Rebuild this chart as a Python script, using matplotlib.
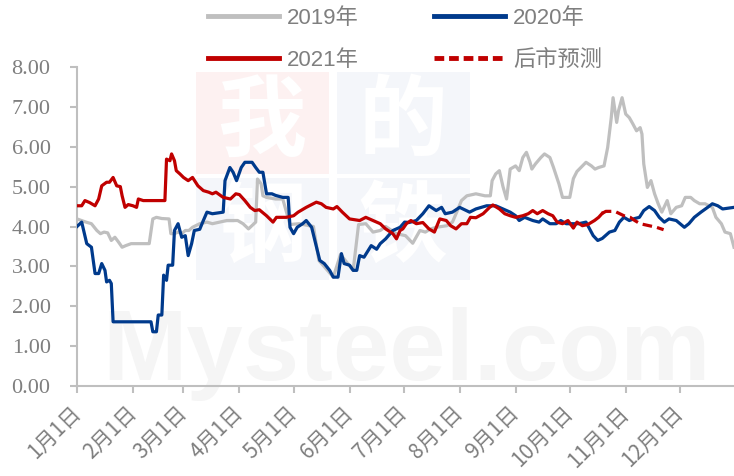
import numpy as np
import matplotlib
matplotlib.use("Agg")
import matplotlib.pyplot as plt
from matplotlib import font_manager
from matplotlib.patches import Rectangle
from matplotlib.lines import Line2D

# day of year (0 = Jan 1) and values
days_2019 = [0, 5, 8, 11, 13, 15, 17, 19, 21, 23, 25, 27, 30, 40, 42, 44, 47, 51, 52, 54, 56, 58, 60,
             62, 64, 68, 72, 75, 79, 83, 86, 89, 92, 95, 98, 99, 100, 102, 103, 105, 110, 114, 118,
             123, 131, 134, 142, 146, 153, 156, 160, 164, 168, 171, 177, 182, 186, 190, 193, 196,
             199, 205, 208, 210, 213, 216, 221, 226, 229, 230, 232, 234, 236, 238, 240, 243, 245,
             247, 249, 251, 252, 254, 257, 259, 262, 264, 267, 269, 273, 275, 277, 282, 285, 287,
             289, 292, 294, 296, 297, 299, 300, 302, 304, 306, 308, 310, 312, 313, 314, 316, 318,
             320, 322, 324, 327, 329, 332, 335, 337, 340, 342, 345, 348, 352, 354, 357, 359, 362, 364]
vals_2019 = [4.19, 4.11, 4.07, 3.90, 3.82, 3.86, 3.84, 3.65, 3.73, 3.61, 3.48, 3.52, 3.57, 3.57, 4.19,
             4.23, 4.20, 4.19, 3.82, 3.82, 3.86, 3.82, 3.90, 3.90, 3.98, 4.07, 4.11, 4.07, 4.11, 4.15,
             4.15, 4.15, 4.07, 3.94, 4.07, 4.11, 5.19, 5.07, 4.77, 4.73, 4.69, 4.69, 4.05, 4.07, 4.00,
             3.15, 2.73, 3.30, 2.90, 4.05, 4.07, 3.86, 3.90, 4.00, 3.82, 3.77, 3.58, 3.90, 3.86, 3.94,
             3.98, 4.02, 4.11, 4.32, 4.65, 4.77, 4.82, 4.77, 4.77, 5.15, 5.32, 5.40, 5.00, 4.69, 5.44,
             5.52, 5.40, 5.73, 5.86, 5.61, 5.44, 5.57, 5.73, 5.82, 5.73, 5.48, 5.07, 4.73, 4.73, 5.20,
             5.38, 5.61, 5.52, 5.44, 5.48, 5.52, 5.98, 6.73, 7.23, 6.61, 6.90, 7.23, 6.82, 6.73, 6.57,
             6.40, 6.48, 6.32, 5.57, 4.98, 5.15, 4.82, 4.57, 4.36, 4.65, 4.32, 4.48, 4.52, 4.73, 4.73,
             4.65, 4.57, 4.57, 4.48, 4.23, 4.07, 3.86, 3.82, 3.48]

days_2020 = [0, 2.6, 5.4, 8, 10, 12, 13.7, 15.5, 16.4, 18, 19, 20, 41, 42, 44, 45, 47, 48, 49.6, 50.5,
             53, 54, 56, 58, 60, 61.6, 63.5, 65, 68, 70, 72, 75, 81, 82, 84.7, 86.5, 88.4, 91, 93, 97,
             99, 101, 103, 105, 108, 110, 114, 117, 118, 120, 122, 125, 127, 130, 132, 134.5, 137,
             140, 142, 144.6, 146.5, 148, 151, 153, 155, 156.6, 159, 163, 166, 168, 171, 175, 179,
             181.5, 184, 188, 191.6, 195, 199, 202, 204, 208, 212, 217.5, 221, 227, 232, 236, 240,
             243, 245, 248, 252.5, 256, 258, 262, 265.5, 268, 271, 278, 282, 286, 288.5, 291, 295,
             298, 300.5, 303, 306, 309, 311.6, 314, 317, 320, 322.6, 325.4, 328, 332, 336.5, 339,
             342, 345.7, 349.4, 352, 355, 357.7, 364]
vals_2020 = [4.00, 4.11, 3.57, 3.48, 2.82, 2.82, 3.07, 2.90, 2.61, 2.65, 2.57, 1.61, 1.61, 1.36, 1.36,
             1.78, 1.78, 2.78, 2.65, 3.03, 3.03, 3.90, 4.07, 3.73, 3.77, 3.27, 3.57, 3.90, 3.93, 4.15,
             4.36, 4.32, 4.36, 5.15, 5.48, 5.36, 5.15, 5.48, 5.61, 5.61, 5.48, 5.36, 5.36, 4.82, 4.82,
             4.78, 4.73, 4.73, 3.98, 3.82, 3.98, 4.07, 4.15, 3.98, 3.61, 3.15, 3.07, 2.90, 2.73, 2.73,
             3.32, 3.07, 3.03, 2.90, 2.90, 3.27, 3.23, 3.52, 3.43, 3.57, 3.69, 3.90, 3.98, 4.11, 4.10,
             4.15, 4.32, 4.52, 4.40, 4.48, 4.32, 4.36, 4.48, 4.36, 4.44, 4.52, 4.52, 4.44, 4.36, 4.27,
             4.15, 4.23, 4.15, 4.11, 4.19, 4.07, 4.07, 4.15, 4.07, 4.07, 4.11, 3.77, 3.65, 3.70, 3.86,
             3.90, 4.11, 4.23, 4.15, 4.20, 4.23, 4.40, 4.50, 4.40, 4.23, 4.11, 4.19, 4.15, 3.98, 4.07,
             4.23, 4.36, 4.48, 4.57, 4.52, 4.44, 4.48]

days_2021 = [0, 2.6, 4.4, 7, 10, 12, 13.7, 16.4, 18, 20, 22, 24, 25, 26.6, 28.4, 31, 33, 34, 36.7, 48.7,
             49.6, 51.5, 52.4, 54, 55, 57, 59, 61.6, 64, 67, 70, 73, 75, 77, 81, 85, 88, 90, 93, 96,
             98.5, 101, 105, 108.6, 110.5, 116, 120, 122.5, 127, 132.6, 135.4, 138, 142, 144, 147,
             151, 156.6, 160, 164, 168, 171, 175, 177, 179, 180.5, 182.5, 185, 188, 191.6, 195, 198,
             201, 204.6, 207, 210, 213, 216, 218, 221, 225, 228.6, 230.4, 234, 237, 240, 243, 247,
             250, 252.5, 255, 258, 261, 263.6, 266, 269, 272, 275, 277, 280, 283, 286.7, 289, 291]
vals_2021 = [4.52, 4.52, 4.65, 4.60, 4.52, 4.69, 5.02, 5.11, 5.11, 5.23, 5.02, 5.00, 4.77, 4.48, 4.55,
             4.52, 4.48, 4.69, 4.65, 4.65, 5.69, 5.65, 5.82, 5.65, 5.40, 5.32, 5.23, 5.15, 5.23, 5.02,
             4.90, 4.86, 4.82, 4.86, 4.73, 4.69, 4.82, 4.80, 4.65, 4.48, 4.40, 4.42, 4.27, 4.11, 4.23,
             4.23, 4.27, 4.36, 4.48, 4.61, 4.57, 4.48, 4.44, 4.50, 4.36, 4.19, 4.15, 4.23, 4.15, 4.07,
             3.94, 3.82, 3.69, 3.90, 3.94, 4.07, 4.15, 4.07, 4.10, 3.94, 3.86, 4.19, 4.15, 4.02, 3.94,
             4.07, 4.07, 4.23, 4.22, 4.32, 4.48, 4.54, 4.44, 4.32, 4.27, 4.23, 4.27, 4.32, 4.40, 4.32,
             4.40, 4.32, 4.27, 4.11, 4.07, 4.15, 3.96, 4.11, 4.02, 4.05, 4.15, 4.23, 4.33]

days_fc = [291, 293, 298, 303, 306.5, 309, 312, 317, 321, 325]
vals_fc = [4.33, 4.38, 4.38, 4.27, 4.23, 4.15, 4.07, 4.02, 3.98, 3.92]

month_days = [0, 31, 59, 90, 120, 151, 181, 212, 243, 273, 304, 334]
month_labels = [f"{m}月1日" for m in range(1, 13)]

c19, c20, c21 = "#BFBFBF", "#003A8C", "#C00000"
grey_txt = "#7F7F7F"
cjk = ["Noto Sans CJK SC", "DejaVu Sans"]

# serif face for the y labels (Times-like), looked up by file if the name lookup fails
serif_prop = font_manager.FontProperties(family=["Liberation Serif", "DejaVu Serif"], size=16)
for f in font_manager.fontManager.ttflist:
    if f.name == "Liberation Serif" and f.style == "normal" and f.weight == 400:
        serif_prop = font_manager.FontProperties(fname=f.fname, size=16)
        break

fig = plt.figure(figsize=(7.34, 4.76), dpi=100)
ax = fig.add_axes([77 / 734, 90 / 476, 657 / 734, 319 / 476])
ax.patch.set_visible(False)

# faint watermark behind the plot
def px(x, y):
    return x / 734, 1 - y / 476

wm_boxes = [(196, 72, "#FDF1F1", "我"), (337, 72, "#F4F6FA", "的"),
            (196, 178, "#F4F6FA", "钢"), (337, 178, "#F4F6FA", "铁")]
for bx, by, col, ch in wm_boxes:
    x0, y1 = px(bx, by + 102)
    fig.add_artist(Rectangle((x0, y1), 133 / 734, 102 / 476, transform=fig.transFigure,
                             facecolor=col, edgecolor="none", zorder=-2))
    cx, cy = px(bx + 66, by + 51)
    fig.text(cx, cy, ch, fontsize=64, color="white", ha="center", va="center",
             family=cjk, fontweight="bold", zorder=-1)
mx, my = px(102, 380)
fig.text(mx, my, "Mysteel.com", fontsize=73, color="#F5F5F5", ha="left", va="baseline",
         family=["Liberation Sans", "DejaVu Sans"], fontweight="bold", zorder=-1)

ax.plot(days_2019, vals_2019, color=c19, lw=2.3, zorder=2)
ax.plot(days_2020, vals_2020, color=c20, lw=2.3, zorder=3)
ax.plot(days_2021, vals_2021, color=c21, lw=2.3, zorder=4)
ax.plot(days_fc, vals_fc, color=c21, lw=2.3, ls=(0, (3, 1.6)), zorder=4)

ax.tick_params(axis="both", color="#BFBFBF", width=1.5, length=5)
ax.tick_params(axis="x", pad=12)
ax.tick_params(axis="y", pad=14)
ax.set_xlim(0, 364)
ax.set_ylim(0, 8)
ax.set_yticks(np.arange(0, 9, 1))
ax.set_yticklabels([f"{v:.2f}" for v in range(9)], color=grey_txt, fontproperties=serif_prop)
ax.set_xticks(month_days)
ax.set_xticklabels(month_labels, rotation=45, ha="right", va="center",
                   rotation_mode="anchor", fontsize=15, color=grey_txt, family=cjk,
                   fontweight="light")
for s in ["top", "right"]:
    ax.spines[s].set_visible(False)
for s in ["left", "bottom"]:
    ax.spines[s].set_color("#BFBFBF")
    ax.spines[s].set_linewidth(1.5)

handles = [Line2D([], [], color=c19, lw=3.5), Line2D([], [], color=c21, lw=3.5),
           Line2D([], [], color=c20, lw=3.5), Line2D([], [], color=c21, lw=3.5, ls=(0, (2, 1)))]
labels = ["2019年", "2021年", "2020年", "后市预测"]
fig.legend(handles, labels, ncol=2, loc="upper left", bbox_to_anchor=(208 / 734, 1 - 8 / 476),
           frameon=False, handlelength=3.2, handletextpad=0.35, columnspacing=3.4,
           labelspacing=0.95, borderpad=0, borderaxespad=0,
           prop={"family": ["Liberation Sans"] + cjk, "size": 16},
           labelcolor=grey_txt)

fig.savefig("out.png", dpi=100)
